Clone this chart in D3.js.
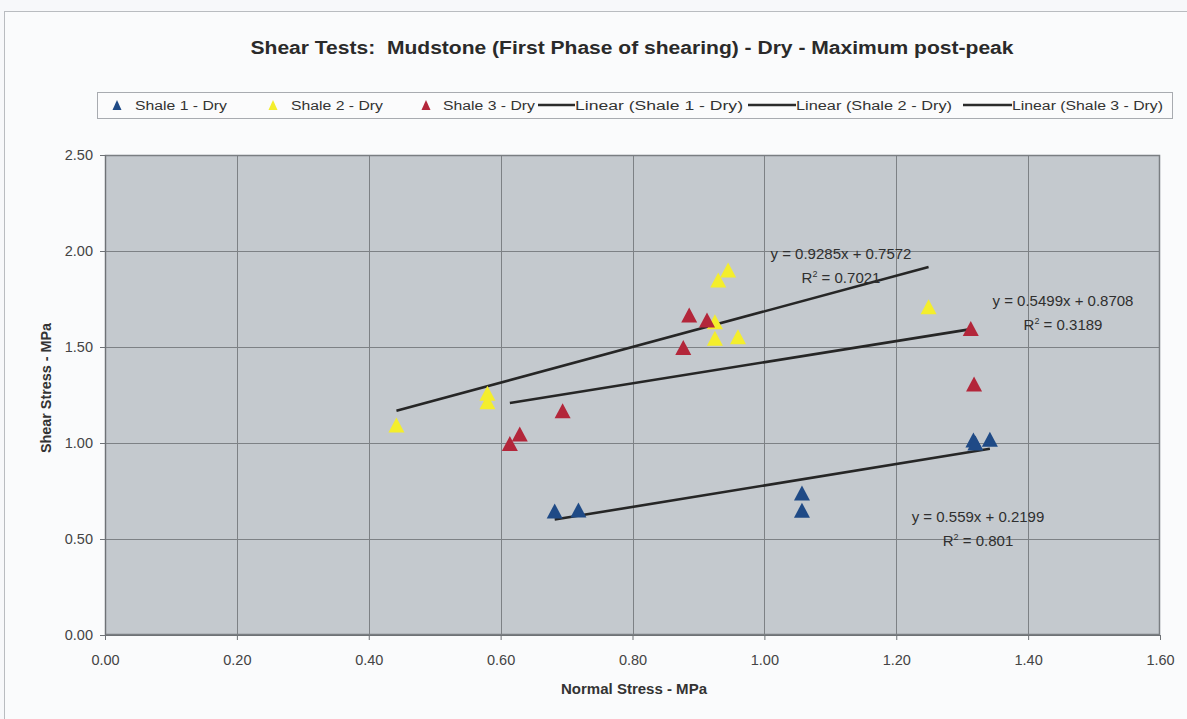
<!DOCTYPE html>
<html>
<head>
<meta charset="utf-8">
<script src="https://cdn.jsdelivr.net/npm/d3@7"></script>
<style>
  html, body { margin: 0; padding: 0; background: #f7f8fa; }
  svg { display: block; font-family: "Liberation Sans", Arial, sans-serif; }
  .pre { white-space: pre; }
</style>
</head>
<body>
<svg id="chart" width="1187" height="719"></svg>
<script>
// Shear test results (normal stress vs shear stress, MPa)
const shale1X = [0.682, 0.718, 1.057, 1.057, 1.317, 1.342, 1.320];
const shale1Y = [0.646, 0.651, 0.740, 0.650, 1.016, 1.020, 1.000];

const shale2X = [0.442, 0.580, 0.580, 0.945, 0.930, 0.925, 0.925, 0.960, 1.249];
const shale2Y = [1.094, 1.259, 1.215, 1.901, 1.849, 1.632, 1.545, 1.554, 1.710];

const shale3X = [0.614, 0.629, 0.694, 0.886, 0.913, 0.877, 1.313, 1.318];
const shale3Y = [0.998, 1.047, 1.168, 1.667, 1.641, 1.498, 1.597, 1.307];

const seriesNames = ["Shale 1 - Dry", "Shale 2 - Dry", "Shale 3 - Dry"];
const seriesColors = ["#1f4a86", "#f4ee2c", "#b3263a"];

// Linear trendline fits per series
const trendSlopes = [0.559, 0.9285, 0.5499];
const trendIntercepts = [0.2199, 0.7572, 0.8708];
const trendSlopeLabels = ["0.559", "0.9285", "0.5499"];
const trendInterceptLabels = ["0.2199", "0.7572", "0.8708"];
const trendR2Labels = ["0.801", "0.7021", "0.3189"];

const xTicks = [0, 0.2, 0.4, 0.6, 0.8, 1.0, 1.2, 1.4, 1.6];
const yTicks = [0, 0.5, 1.0, 1.5, 2.0, 2.5];

const chartTitle = "Shear Tests:  Mudstone (First Phase of shearing) - Dry - Maximum post-peak";
const xTitle = "Normal Stress - MPa";
const yTitle = "Shear Stress - MPa";

const series = [
  { name: seriesNames[0], xs: shale1X, ys: shale1Y, color: seriesColors[0] },
  { name: seriesNames[1], xs: shale2X, ys: shale2Y, color: seriesColors[1] },
  { name: seriesNames[2], xs: shale3X, ys: shale3Y, color: seriesColors[2] }
];

const svg = d3.select("#chart");
const W = 1187, H = 719;
const plot = { left: 105, top: 155, right: 1160, bottom: 635 };

const x = d3.scaleLinear().domain([0, 1.6]).range([plot.left, plot.right]);
const y = d3.scaleLinear().domain([0, 2.5]).range([plot.bottom, plot.top]);

// chart frame
svg.append("rect").attr("x", 4.5).attr("y", 11.5).attr("width", W + 10).attr("height", H + 10)
  .attr("fill", "#fafbfc").attr("stroke", "#b9bcc0").attr("stroke-width", 1);

// title
svg.append("text").attr("class", "pre").attr("x", 632).attr("y", 54).attr("text-anchor", "middle")
  .attr("font-size", 18).attr("font-weight", "bold").attr("fill", "#2a2a2a")
  .attr("textLength", 763).attr("lengthAdjust", "spacingAndGlyphs")
  .text(chartTitle);

// legend
const legend = svg.append("g");
legend.append("rect").attr("x", 97.5).attr("y", 92.5).attr("width", 1075).attr("height", 26)
  .attr("fill", "#fbfbfc").attr("stroke", "#a8abb0");

function triPath(w, h) {
  return `M0,${-h / 2}L${w / 2},${h / 2}L${-w / 2},${h / 2}Z`;
}

const legendMarkers = [
  { mx: 117, tx: 135, tw: 92 },
  { mx: 273, tx: 291, tw: 92 },
  { mx: 426, tx: 443, tw: 92 }
];
series.forEach((s, i) => {
  const m = legendMarkers[i];
  legend.append("path").attr("d", triPath(9, 10))
    .attr("transform", `translate(${m.mx},105)`).attr("fill", s.color);
  legend.append("text").attr("x", m.tx).attr("y", 110).attr("font-size", 12.5).attr("fill", "#333")
    .attr("textLength", m.tw).attr("lengthAdjust", "spacingAndGlyphs").text(s.name);
});
const legendLines = [
  { x1: 538, x2: 575, tw: 168 },
  { x1: 748, x2: 796, tw: 156 },
  { x1: 963, x2: 1012, tw: 151 }
];
series.forEach((s, i) => {
  const l = legendLines[i];
  legend.append("line").attr("x1", l.x1).attr("x2", l.x2).attr("y1", 105).attr("y2", 105)
    .attr("stroke", "#2b2b2b").attr("stroke-width", 2.5);
  legend.append("text").attr("x", l.x2).attr("y", 110).attr("font-size", 12.5).attr("fill", "#333")
    .attr("textLength", l.tw).attr("lengthAdjust", "spacingAndGlyphs")
    .text(`Linear (${s.name})`);
});

// plot area
svg.append("rect").attr("x", plot.left).attr("y", plot.top)
  .attr("width", plot.right - plot.left).attr("height", plot.bottom - plot.top)
  .attr("fill", "#c4c9ce");

// gridlines
const grid = svg.append("g").attr("stroke", "#7d8185").attr("stroke-width", 1);
xTicks.slice(1, -1).forEach(t => {
  grid.append("line").attr("x1", Math.round(x(t)) + 0.5).attr("x2", Math.round(x(t)) + 0.5)
    .attr("y1", plot.top).attr("y2", plot.bottom);
});
yTicks.slice(1, -1).forEach(t => {
  grid.append("line").attr("y1", Math.round(y(t)) + 0.5).attr("y2", Math.round(y(t)) + 0.5)
    .attr("x1", plot.left).attr("x2", plot.right);
});

// plot border
svg.append("rect").attr("x", plot.left + 0.5).attr("y", plot.top + 0.5)
  .attr("width", plot.right - plot.left - 1).attr("height", plot.bottom - plot.top - 1)
  .attr("fill", "none").attr("stroke", "#7a7e82").attr("stroke-width", 1.5);

// axes
const xAxis = d3.axisBottom(x).tickValues(xTicks).tickFormat(d3.format(".2f")).tickSize(5).tickPadding(15);
const yAxis = d3.axisLeft(y).tickValues(yTicks).tickFormat(d3.format(".2f")).tickSize(5).tickPadding(7);

const gx = svg.append("g").attr("transform", `translate(0,${plot.bottom})`).call(xAxis);
const gy = svg.append("g").attr("transform", `translate(${plot.left},0)`).call(yAxis);
[gx, gy].forEach(g => {
  g.select(".domain").attr("stroke", "#6e7276");
  g.selectAll(".tick line").attr("stroke", "#6e7276");
  g.selectAll(".tick text").attr("font-size", 14.5).attr("fill", "#444")
    .attr("font-family", "'Liberation Sans', Arial, sans-serif");
});

// axis titles
svg.append("text").attr("x", 634).attr("y", 694).attr("text-anchor", "middle")
  .attr("font-size", 14).attr("font-weight", "bold").attr("fill", "#333")
  .attr("textLength", 146).attr("lengthAdjust", "spacingAndGlyphs").text(xTitle);
svg.append("text").attr("transform", "translate(51,388) rotate(-90)").attr("text-anchor", "middle")
  .attr("font-size", 14).attr("font-weight", "bold").attr("fill", "#333")
  .attr("textLength", 130).attr("lengthAdjust", "spacingAndGlyphs").text(yTitle);

// trendlines, spanning each series' x range
const trends = svg.append("g");
series.forEach((s, i) => {
  const [x0, x1] = d3.extent(s.xs);
  const f = v => trendSlopes[i] * v + trendIntercepts[i];
  trends.append("line")
    .attr("x1", x(x0)).attr("y1", y(f(x0)))
    .attr("x2", x(x1)).attr("y2", y(f(x1)))
    .attr("stroke", "#262626").attr("stroke-width", 2.6);
});

// markers
const marks = svg.append("g");
series.forEach(s => {
  marks.selectAll(null).data(d3.range(s.xs.length)).join("path")
    .attr("d", triPath(16, 15))
    .attr("transform", j => `translate(${x(s.xs[j])},${y(s.ys[j])})`)
    .attr("fill", s.color);
});

// trendline equations
const eqPos = [
  { cx: 978, by: 522 },
  { cx: 841, by: 259 },
  { cx: 1063, by: 306 }
];
series.forEach((s, i) => {
  const p = eqPos[i];
  const g = svg.append("g").attr("font-size", 15).attr("fill", "#2f2f2f").attr("text-anchor", "middle");
  g.append("text").attr("x", p.cx).attr("y", p.by)
    .text(`y = ${trendSlopeLabels[i]}x + ${trendInterceptLabels[i]}`);
  const r = g.append("text").attr("x", p.cx).attr("y", p.by + 24);
  r.append("tspan").text("R");
  r.append("tspan").attr("dy", -6).attr("font-size", 9).text("2");
  r.append("tspan").attr("dy", 6).text(` = ${trendR2Labels[i]}`);
});
</script>
</body>
</html>
